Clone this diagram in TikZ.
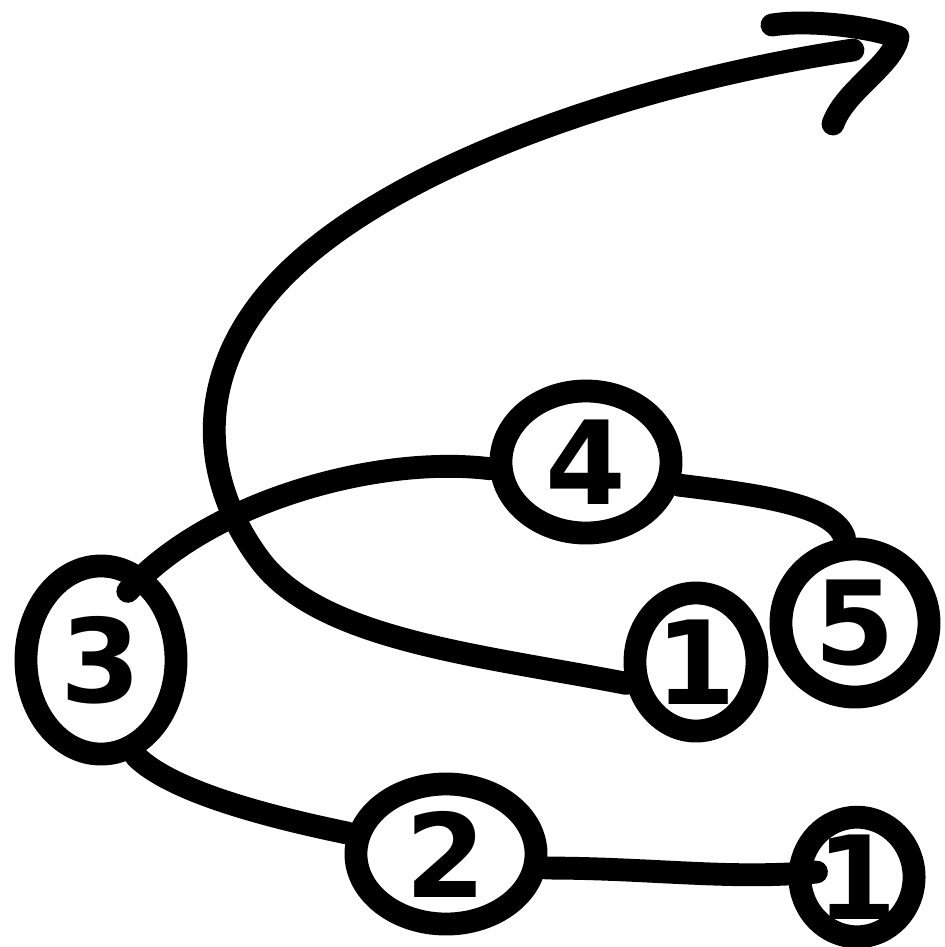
\documentclass[tikz,border=0pt]{standalone}
\usepackage{fontspec}
\setsansfont{DejaVu Sans}
\usetikzlibrary{shapes,arrows,positioning}

\begin{document}
\begin{tikzpicture}[
    x=0.01cm, y=-0.01cm,
    stroke/.style={line width=6.5pt, line cap=round, line join=round},
    num/.style={stroke, draw, ellipse, inner sep=0pt,
                font=\sffamily\bfseries\fontsize{33}{33}\selectfont},
    link/.style={stroke}
]
\useasboundingbox (0,0) rectangle (945,947);

% Numbered blobs
\node[num, minimum width=0.96cm, minimum height=1.08cm] (n1a) at (857,877) {1};
\node[num, minimum width=1.80cm, minimum height=1.40cm] (n2) at (446,854) {2};
\node[num, minimum width=1.50cm, minimum height=1.88cm] (n3) at (101,660) {3};
\node[num, minimum width=1.70cm, minimum height=1.42cm] (n4) at (586,462) {4};
\node[num, minimum width=1.48cm, minimum height=1.48cm] (n5) at (855,623) {5};
\node[num, minimum width=1.22cm, minimum height=1.38cm] (n1b) at (696,662) {1};

% Chain 1 - 2 - 3 - 4 - 5
\draw[link, shorten >=-8pt] (n2.-8) .. controls (650,868) and (730,880) .. (n1a.178);
\draw[link] (n3.-70) .. controls (170,790) and (260,815) .. (n2.168);
\draw[link, shorten <=-8pt] (n3.63) .. controls (210,500) and (380,455) .. (n4.184);
\draw[link] (n4.-14) .. controls (760,495) and (835,505) .. (n5.97);

% Big sweep out of the second 1
\coordinate (tip) at (853,50);
\draw[link] (n1b.197) .. controls (480,655) and (320,640) .. (260,560)
    .. controls (200,480) and (190,370) .. (285,275)
    .. controls (400,160) and (650,80) .. (tip);

% Open arrow head
\coordinate (headL) at (772,25);
\coordinate (headR) at (898,37);
\coordinate (headB) at (833,124);
\draw[stroke] (headL) .. controls (810,19) and (870,27) .. (headR)
    .. controls (893,65) and (845,90) .. (headB);

\end{tikzpicture}
\end{document}
